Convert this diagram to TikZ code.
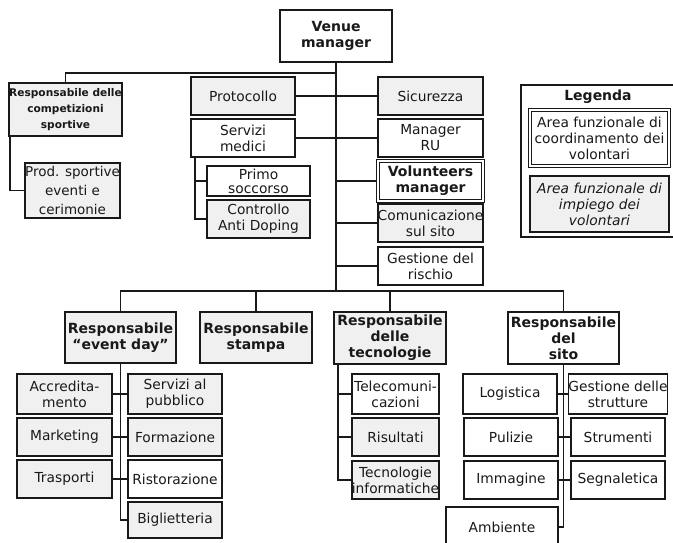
\documentclass[tikz,border=0pt]{standalone}
\usepackage{fontspec}
\setmainfont{DejaVu Sans}
\begin{document}
\begin{tikzpicture}[x=1pt,y=-1pt]
\tikzset{
 bx/.style={draw=black!90, line width=1.7pt, inner sep=0pt, align=center, text=black!90, font=\fontsize{13.8}{16}\selectfont},
 wbox/.style={bx, fill=white},
 gbox/.style={bx, fill=gray!12},
 bbold/.style={font=\bfseries\fontsize{14}{16}\selectfont},
 dbl/.style={double=white, double distance=1.6pt, line width=1.1pt},
 conn/.style={draw=black!90, line width=1.8pt},
}
\newcommand\mybox[6]{\node[#6, minimum width={(#4-#2)*1pt}, minimum height={(#5-#3)*1pt}] (#1) at ({(#2+#4)/2},{(#3+#5)/2})}
\useasboundingbox (0,0) rectangle (673,542);

% top
\mybox{vm}{280}{10}{392}{62}{wbox,bbold}{Venue\\manager};
\mybox{comp}{10}{83}{121}{136}{gbox,font=\bfseries\fontsize{10.6}{16}\selectfont}{Responsabile delle\\competizioni\\sportive};
\mybox{prod}{26}{163}{119}{218}{gbox,font=\fontsize{13.5}{19}\selectfont}{Prod. sportive\\eventi e\\cerimonie};
\mybox{prot}{191}{77}{295}{115}{gbox}{Protocollo};
\mybox{serv}{191}{119}{295}{157}{wbox}{Servizi\\medici};
\mybox{prim}{207}{166}{310}{196}{wbox,font=\fontsize{13.8}{14}\selectfont}{Primo\\soccorso};
\mybox{ctrl}{207}{200}{310}{238}{gbox}{Controllo\\Anti Doping};
\mybox{sic}{378}{77}{483}{115}{gbox}{Sicurezza};
\mybox{mru}{378}{119}{483}{157}{wbox}{Manager\\RU};
\mybox{vol}{378}{161}{483}{201}{wbox,dbl,bbold}{Volunteers\\manager};
\mybox{com}{378}{204}{483}{242}{gbox}{Comunicazione\\sul sito};
\mybox{ges}{378}{247}{483}{285}{wbox}{Gestione del\\rischio};

% legend
\mybox{leg}{521}{85}{678}{237}{wbox}{};
\node[font=\bfseries\fontsize{14}{16}\selectfont, text=black!90] (legt) at (598,97) {Legenda};
\mybox{la}{530}{110}{669}{166}{wbox,dbl}{Area funzionale di\\coordinamento dei\\volontari};
\mybox{lb}{530}{176}{669}{232}{gbox,font=\itshape\fontsize{13.8}{16}\selectfont}{Area funzionale di\\impiego dei\\volontari};

% bottom row
\mybox{ed}{65}{312}{176}{363}{gbox,bbold}{Responsabile\\“event day”};
\mybox{st}{200}{312}{312}{363}{gbox,bbold}{Responsabile\\stampa};
\mybox{tec}{334}{312}{446}{364}{gbox,bbold}{Responsabile\\delle\\tecnologie};
\mybox{si}{508}{312}{619}{364}{wbox,bbold}{Responsabile\\del\\sito};

\mybox{accr}{17}{374}{112}{414}{gbox}{Accredita-\\mento};
\mybox{serpub}{128}{374}{222}{414}{gbox}{Servizi al\\pubblico};
\mybox{mark}{17}{418}{112}{456}{gbox}{Marketing};
\mybox{form}{128}{418}{222}{456}{gbox}{Formazione};
\mybox{tras}{17}{460}{112}{498}{gbox}{Trasporti};
\mybox{rist}{128}{460}{222}{498}{wbox}{Ristorazione};
\mybox{big}{128}{502}{222}{538}{gbox}{Biglietteria};

\mybox{tele}{352}{374}{439}{414}{wbox}{Telecomuni-\\cazioni};
\mybox{ris}{352}{418}{439}{456}{gbox}{Risultati};
\mybox{tinf}{352}{461}{439}{499}{gbox}{Tecnologie\\informatiche};

\mybox{log}{463}{374}{557}{414}{wbox}{Logistica};
\mybox{gest}{571}{374}{665}{414}{wbox}{Gestione delle\\strutture};
\mybox{pul}{464}{418}{558}{456}{wbox}{Pulizie};
\mybox{strum}{571}{418}{665}{456}{wbox}{Strumenti};
\mybox{imm}{464}{461}{558}{499}{wbox}{Immagine};
\mybox{segn}{571}{461}{665}{499}{wbox}{Segnaletica};
\mybox{amb}{446}{507}{558}{547}{wbox}{Ambiente};

% connectors
\coordinate (jt) at (336,73);
\coordinate (jb) at (336,291);
\coordinate (cl) at ([xshift=2pt]comp.south west);
\coordinate (sl) at ([xshift=5pt]serv.south west);
\coordinate (tl) at ([xshift=5pt]tec.south west);
\draw[conn] (vm.south) -- (jb);
\draw[conn] (jt) -| (comp.north);
\draw[conn] (cl) |- (prod.west);
\draw[conn] (prot) -- (sic);
\draw[conn] (serv) -- (mru);
\draw[conn] (vol.west) -- (vol.west -| jb);
\draw[conn] (com.west) -- (com.west -| jb);
\draw[conn] (ges.west) -- (ges.west -| jb);
\draw[conn] (sl) |- (ctrl.west);
\draw[conn] (prim.west) -- (prim.west -| sl);
\draw[conn] (ed.north) |- (jb) -| (si.north);
\draw[conn] (st.north) -- (st.north |- jb);
\draw[conn] (tec.north) -- (tec.north |- jb);
\draw[conn] (ed.south) |- (big.west);
\draw[conn] (accr) -- (serpub);
\draw[conn] (mark) -- (form);
\draw[conn] (tras) -- (rist);
\draw[conn] (tl) |- (tinf.west);
\draw[conn] (tele.west) -- (tele.west -| tl);
\draw[conn] (ris.west) -- (ris.west -| tl);
\draw[conn] (si.south) |- (amb.east);
\draw[conn] (log) -- (gest);
\draw[conn] (pul) -- (strum);
\draw[conn] (imm) -- (segn);
\end{tikzpicture}
\end{document}
